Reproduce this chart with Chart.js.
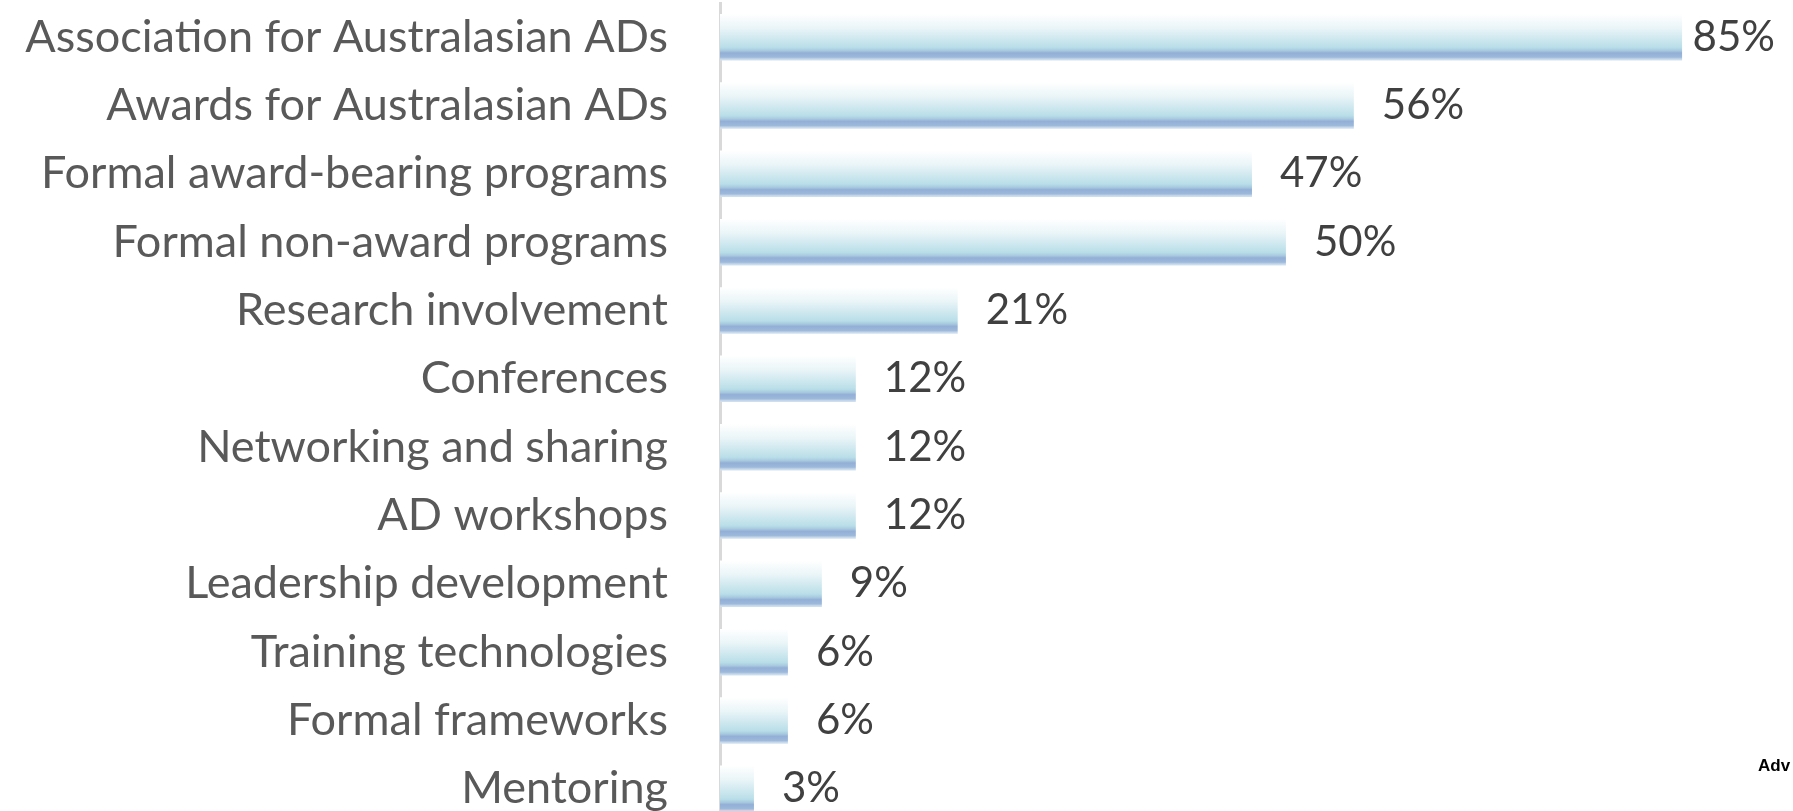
<!DOCTYPE html>
<html>
<head>
<meta charset="utf-8">
<script src="https://cdn.jsdelivr.net/npm/chart.js@4"></script>
<style>
  html, body { margin: 0; padding: 0; background: #fff; overflow: hidden; }
  #wrap { position: relative; width: 1793px; height: 823px; }
</style>
</head>
<body>
<div id="wrap"><canvas id="myChart"></canvas></div>
<script>
let labels = [
  'Association for Australasian ADs',
  'Awards for Australasian ADs',
  'Formal award-bearing programs',
  'Formal non-award programs',
  'Research involvement',
  'Conferences',
  'Networking and sharing',
  'AD workshops',
  'Leadership development',
  'Training technologies',
  'Formal frameworks',
  'Mentoring'
];
let values = [85, 56, 47, 50, 21, 12, 12, 12, 9, 6, 6, 3];

const FONT = 'Lato, "Open Sans", sans-serif';
const BAR_PCT = 0.68;

// gradiente vertical de cada barra
function barGradient(ctx) {
  let chart = ctx.chart;
  let y = chart.scales.y;
  if (!y || ctx.dataIndex === undefined) return '#b8dee8';
  let step = (y.bottom - y.top) / labels.length;
  let h = step * BAR_PCT;
  let c = y.getPixelForValue(ctx.dataIndex);
  if (!isFinite(c) || !isFinite(h) || h <= 0) return '#b8dee8';
  let g = chart.ctx.createLinearGradient(0, c - h / 2, 0, c + h / 2);
  g.addColorStop(0, '#ffffff');
  g.addColorStop(0.3, '#eaf5f8');
  g.addColorStop(0.72, '#b9dee8');
  g.addColorStop(0.79, '#a8c9df');
  g.addColorStop(0.84, '#93afd6');
  g.addColorStop(0.93, '#9cb8da');
  g.addColorStop(0.97, '#c6d8eb');
  g.addColorStop(1, '#d3e2ef');
  return g;
}

// etiquetas de valor a la derecha de cada barra
const valueLabels = {
  id: 'valueLabels',
  afterDatasetsDraw(chart) {
    const ctx = chart.ctx;
    const meta = chart.getDatasetMeta(0);
    const area = chart.chartArea;
    ctx.save();
    ctx.font = '42px ' + FONT;
    ctx.fillStyle = '#404040';
    ctx.textBaseline = 'middle';
    meta.data.forEach((bar, i) => {
      const txt = values[i] + '%';
      const w = ctx.measureText(txt).width;
      let x = bar.x + 28;
      if (x + w > area.right - 18) x = area.right - 18 - w;
      ctx.fillText(txt, x, bar.y);
    });
    ctx.font = 'bold 17px "Liberation Sans", Arial, sans-serif';
    ctx.fillStyle = '#000';
    ctx.fillText('Adv', 1758, 766);
    ctx.restore();
  }
};

let myChart = {
  type: 'bar',
  data: {
    labels: labels,
    datasets: [{
      label: 'Share',
      data: values,
      backgroundColor: barGradient,
      borderWidth: 0,
      barPercentage: BAR_PCT,
      categoryPercentage: 1
    }]
  },
  options: {
    indexAxis: 'y',
    responsive: true,
    maintainAspectRatio: false,
    animation: false,
    layout: { padding: { top: 3, right: 0, bottom: 0, left: 0 } },
    plugins: {
      legend: { display: false },
      tooltip: { enabled: false }
    },
    scales: {
      x: {
        display: false,
        min: 0,
        max: 94.8
      },
      y: {
        afterFit(scale) {
          scale.width = 720;
          scale.paddingTop = 0;
          scale.paddingBottom = 0;
        },
        grid: { display: false },
        border: { display: true, color: '#d9d9d9', width: 3 },
        ticks: {
          font: { family: FONT, size: 45 },
          color: '#595959',
          padding: 44
        }
      }
    }
  },
  plugins: [valueLabels]
};

var canvas = document.getElementById('myChart');
window.bar = new Chart(canvas, myChart);
</script>
</body>
</html>
